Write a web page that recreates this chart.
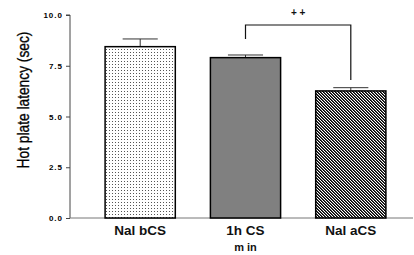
<!DOCTYPE html>
<html>
<head>
<meta charset="utf-8">
<script src="https://cdn.jsdelivr.net/npm/d3@7"></script>
<style>
  body { margin: 0; background: #fff; }
  svg { display: block; font-family: Arial, 'Liberation Sans', sans-serif; }
</style>
</head>
<body>
<div id="chart"></div>
<script>
const categories = ['Nal bCS', '1h CS', 'Nal aCS']
const means = [8.44, 7.9, 6.26]
const sems = [0.38, 0.13, 0.16]
const fills = ['url(#dots)', '#808080', 'url(#hatch)']
const yTicks = [0, 2.5, 5, 7.5, 10]

const width = 414
const height = 255

const svg = d3
  .select('#chart')
  .append('svg')
  .attr('width', width)
  .attr('height', height)

const defs = svg.append('defs')

const dots = defs
  .append('pattern')
  .attr('id', 'dots')
  .attr('patternUnits', 'userSpaceOnUse')
  .attr('width', 3)
  .attr('height', 3)
dots.append('rect').attr('width', 3).attr('height', 3).attr('fill', '#fff')
dots.append('rect').attr('x', 1).attr('y', 1).attr('width', 1).attr('height', 1).attr('fill', '#555')

// diagonal "\" hatching built pixel by pixel so it stays crisp
const hatch = defs
  .append('pattern')
  .attr('id', 'hatch')
  .attr('patternUnits', 'userSpaceOnUse')
  .attr('width', 3)
  .attr('height', 3)
hatch.append('rect').attr('width', 3).attr('height', 3).attr('fill', '#fff')
d3.range(3).forEach(r => {
  hatch.append('rect').attr('x', r).attr('y', r).attr('width', 1).attr('height', 1).attr('fill', '#000')
  hatch.append('rect').attr('x', (r + 1) % 3).attr('y', r).attr('width', 1).attr('height', 1).attr('fill', '#444')
})

const xScale = d3
  .scaleBand()
  .domain(categories)
  .range([70, 421])
  .paddingInner(1 / 3)
  .paddingOuter(1 / 3)

const yScale = d3
  .scaleLinear()
  .domain([0, 10])
  .range([218, 15])

// y axis
const yAxis = d3
  .axisLeft(yScale)
  .tickValues(yTicks)
  .tickSize(4)
  .tickPadding(3)
  .tickFormat(d3.format('.1f'))

const yG = svg
  .append('g')
  .attr('transform', 'translate(70,0)')
  .call(yAxis)
yG.select('.domain').attr('stroke', '#444').attr('d', 'M-4,' + yScale(10) + 'H0V' + yScale(0))
yG.selectAll('.tick line').attr('stroke', '#444')
yG.selectAll('.tick text')
  .attr('font-size', 8)
  .attr('font-weight', 'bold')
  .attr('letter-spacing', 1)
  .attr('fill', '#000')

// x baseline
svg
  .append('line')
  .attr('x1', 70)
  .attr('x2', 413)
  .attr('y1', yScale(0))
  .attr('y2', yScale(0))
  .attr('stroke', '#777')
  .attr('stroke-width', 1)

// error bars
svg
  .selectAll('.err')
  .data(categories)
  .enter()
  .append('path')
  .attr('class', 'err')
  .attr('fill', 'none')
  .attr('stroke', '#333')
  .attr('stroke-width', 1)
  .attr('d', (d, i) => {
    const cx = xScale(d) + xScale.bandwidth() / 2
    const top = yScale(means[i] + sems[i])
    const half = xScale.bandwidth() / 4
    return 'M' + cx + ',' + yScale(means[i]) + 'V' + top + 'M' + (cx - half) + ',' + top + 'H' + (cx + half)
  })

// bars
svg
  .selectAll('.bar')
  .data(categories)
  .enter()
  .append('rect')
  .attr('class', 'bar')
  .attr('x', d => xScale(d))
  .attr('width', xScale.bandwidth())
  .attr('y', (d, i) => yScale(means[i]))
  .attr('height', (d, i) => yScale(0) - yScale(means[i]))
  .attr('fill', (d, i) => fills[i])
  .attr('stroke', '#000')
  .attr('stroke-width', 1.5)

// x labels
svg
  .selectAll('.xlab')
  .data(categories)
  .enter()
  .append('text')
  .attr('class', 'xlab')
  .attr('x', d => xScale(d) + xScale.bandwidth() / 2)
  .attr('y', 235)
  .attr('text-anchor', 'middle')
  .attr('font-size', 13.5)
  .attr('font-weight', 'bold')
  .attr('fill', '#111')
  .text(d => d)

svg
  .append('text')
  .attr('x', xScale('1h CS') + xScale.bandwidth() / 2)
  .attr('y', 251)
  .attr('text-anchor', 'middle')
  .attr('font-size', 11)
  .attr('font-weight', 'bold')
  .attr('fill', '#111')
  .text('m in')

// y label (tall, slightly condensed)
svg
  .append('text')
  .attr('transform', 'translate(28.5,100) rotate(-90) scale(0.86,1)')
  .attr('text-anchor', 'middle')
  .attr('font-size', 16)
  .attr('fill', '#000')
  .attr('stroke', '#000')
  .attr('stroke-width', 0.3)
  .text('Hot plate latency (sec)')

// significance bracket
const c2 = xScale('1h CS') + xScale.bandwidth() / 2
const c3 = xScale('Nal aCS') + xScale.bandwidth() / 2
svg
  .append('path')
  .attr('fill', 'none')
  .attr('stroke', '#111')
  .attr('stroke-width', 1.2)
  .attr('d', 'M' + c2 + ',39V25H' + c3 + 'V80')

svg
  .append('text')
  .attr('x', (c2 + c3) / 2)
  .attr('y', 16)
  .attr('text-anchor', 'middle')
  .attr('font-size', 10)
  .attr('font-weight', 'bold')
  .attr('fill', '#111')
  .text('+ +')
</script>
</body>
</html>
